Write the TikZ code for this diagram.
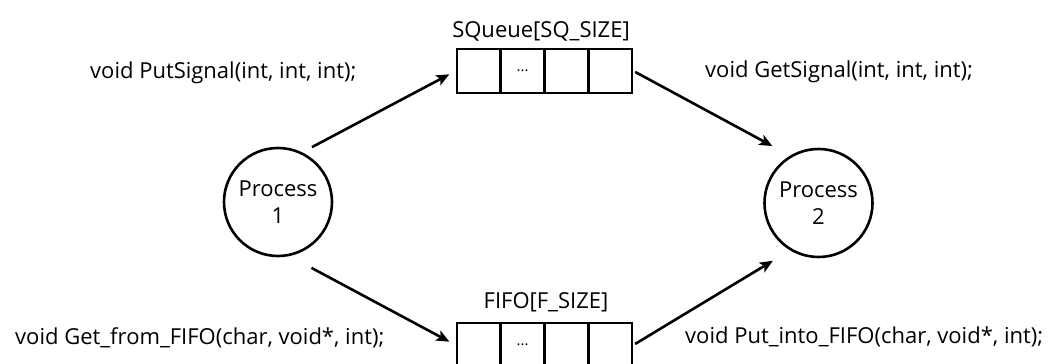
\documentclass[tikz,border=0pt]{standalone}
\usepackage{fontspec}
\setmainfont{Open Sans}
\usetikzlibrary{arrows.meta}
\begin{document}
\begin{tikzpicture}[x=1pt,y=-1pt,
  every node/.style={font=\fontsize{22}{27}\selectfont, inner sep=0pt},
  proc/.style={circle, draw, line width=2.6pt, minimum size=108pt, align=center},
  cell/.style={rectangle, draw, line width=2.9pt, minimum width=43.75pt, minimum height=44pt, font=\fontsize{15}{18}\selectfont},
  conn/.style={line width=2.6pt, -{Stealth[length=13pt,width=11pt,inset=3pt]}},
  lbl/.style={anchor=west}
]
\clip (0,0) rectangle (1061,364);
\fill[white] (0,0) rectangle (1061,364);

% processes
\node[proc] (P1) at (278,202) {Process\\1};
\node[proc] (P2) at (818.5,203) {Process\\2};

% SQueue cells
\node[cell] (sq1) at (478.9,71) {};
\node[cell] (sq2) at (522.6,71) {...};
\node[cell] (sq3) at (566.4,71) {};
\node[cell] (sq4) at (610.1,71) {};
\node (sqlbl) at (541,31) {SQueue[SQ\_SIZE]};

% FIFO cells
\node[cell] (ff1) at (478.9,345) {};
\node[cell] (ff2) at (522.6,345) {...};
\node[cell] (ff3) at (566.4,345) {};
\node[cell] (ff4) at (610.1,345) {};
\node (fflbl) at (546,302) {FIFO[F\_SIZE]};

% labels
\node[lbl] (putsig) at (90,73) {void PutSignal(int, int, int);};
\node[lbl] (getsig) at (705,72) {void GetSignal(int, int, int);};
\node[lbl] (getff) at (15,338) {void Get\_from\_FIFO(char, void*, int);};
\node[lbl] (putff) at (685,337) {void Put\_into\_FIFO(char, void*, int);};

% connectors
\draw[conn, shorten <=11pt, shorten >=7pt] (P1.64) -- (sq1.west);
\draw[conn, shorten <=25pt, shorten >=7pt] (P1.-78) -- (ff1.west);
\draw[conn, shorten <=2pt, shorten >=20pt] (sq4.east) -- (P2.121);
\draw[conn, shorten <=2pt, shorten >=20pt] (ff4.east) -- (P2.-121);
\end{tikzpicture}
\end{document}
